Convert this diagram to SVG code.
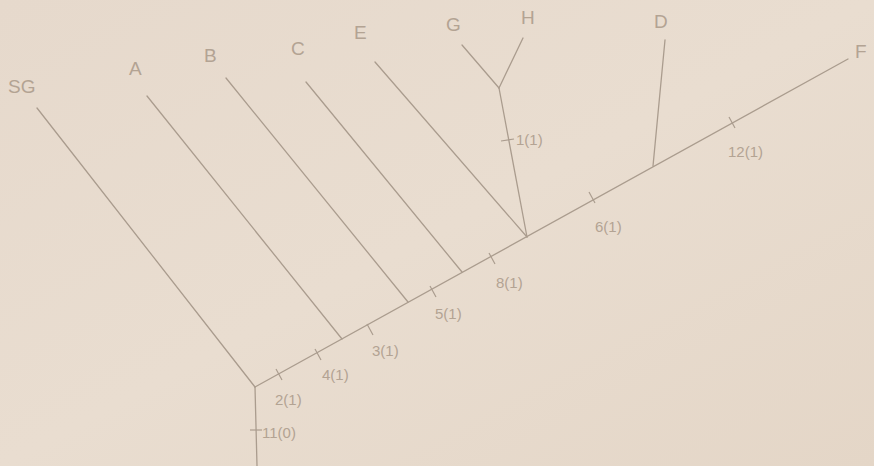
<svg xmlns="http://www.w3.org/2000/svg" width="874" height="466" viewBox="0 0 874 466">
<defs>
<linearGradient id="bg" x1="0" y1="0" x2="1" y2="1">
<stop offset="0" stop-color="#e6d9cc"/>
<stop offset="0.5" stop-color="#e9ddd0"/>
<stop offset="1" stop-color="#e4d6c7"/>
</linearGradient>
<style>
.ln{stroke:#aa9c8e;stroke-width:1.3;fill:none;stroke-linecap:round}
.tk{stroke:#aa9c8e;stroke-width:1.2;fill:none}
.tx{font-family:"Liberation Sans",Arial,sans-serif;fill:#b3a393;font-size:19px}
.nt{font-family:"Liberation Sans",Arial,sans-serif;fill:#b3a393;font-size:15px}
</style>
</defs>
<rect width="874" height="466" fill="url(#bg)"/>
<g id="connectors">
<line class="ln" x1="255" y1="387" x2="848" y2="59"/>
<line class="ln" x1="255" y1="387" x2="257" y2="466"/>
<line class="ln" x1="37" y1="108" x2="255" y2="387"/>
<line class="ln" x1="147" y1="96" x2="342" y2="339"/>
<line class="ln" x1="226" y1="78" x2="408" y2="302"/>
<line class="ln" x1="306" y1="82" x2="462" y2="272"/>
<line class="ln" x1="375" y1="62" x2="527" y2="237"/>
<line class="ln" x1="499" y1="88" x2="527" y2="237"/>
<line class="ln" x1="462" y1="45" x2="499" y2="88"/>
<line class="ln" x1="523" y1="38" x2="499" y2="88"/>
<line class="ln" x1="665" y1="40" x2="653" y2="166"/>
</g>
<g id="ticks">
<line class="tk" x1="276" y1="369" x2="282" y2="380"/>
<line class="tk" x1="315" y1="349" x2="321" y2="360"/>
<line class="tk" x1="367" y1="324" x2="373" y2="335"/>
<line class="tk" x1="430" y1="286" x2="436" y2="297"/>
<line class="tk" x1="489" y1="253" x2="495" y2="264"/>
<line class="tk" x1="589" y1="192" x2="595" y2="203"/>
<line class="tk" x1="729" y1="117" x2="735" y2="128"/>
<line class="tk" x1="250" y1="430" x2="262" y2="430"/>
<line class="tk" x1="501" y1="141" x2="514" y2="139"/>
</g>
<g id="node-SG"><text class="tx" x="8" y="93">SG</text></g>
<g id="node-A"><text class="tx" x="129" y="75">A</text></g>
<g id="node-B"><text class="tx" x="204" y="62">B</text></g>
<g id="node-C"><text class="tx" x="291" y="55">C</text></g>
<g id="node-E"><text class="tx" x="354" y="39">E</text></g>
<g id="node-G"><text class="tx" x="446" y="31">G</text></g>
<g id="node-H"><text class="tx" x="521" y="24">H</text></g>
<g id="node-D"><text class="tx" x="654" y="28">D</text></g>
<g id="node-F"><text class="tx" x="855" y="58">F</text></g>
<g id="labels">
<text class="nt" x="275" y="405">2(1)</text>
<text class="nt" x="322" y="380">4(1)</text>
<text class="nt" x="372" y="356">3(1)</text>
<text class="nt" x="435" y="319">5(1)</text>
<text class="nt" x="496" y="288">8(1)</text>
<text class="nt" x="595" y="232">6(1)</text>
<text class="nt" x="728" y="157">12(1)</text>
<text class="nt" x="262" y="438">11(0)</text>
<text class="nt" x="516" y="145">1(1)</text>
</g>
</svg>
